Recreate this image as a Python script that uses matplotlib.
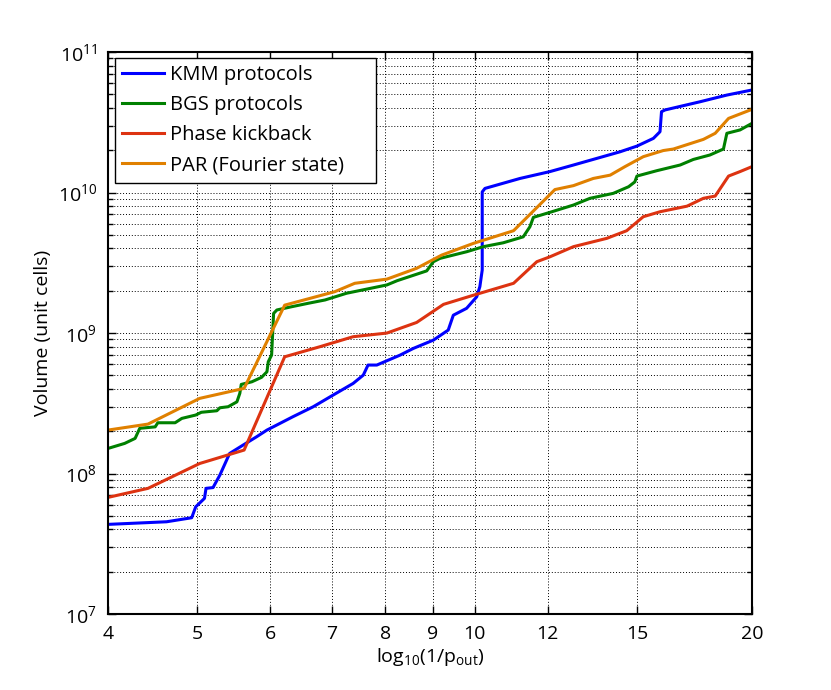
import matplotlib
matplotlib.use("Agg")
import matplotlib.pyplot as plt
from matplotlib.ticker import FixedLocator, NullLocator, FixedFormatter, LogLocator

plt.rcParams['font.family'] = ['Open Sans', 'DejaVu Sans']
plt.rcParams['mathtext.fontset'] = 'custom'
plt.rcParams['mathtext.rm'] = 'Open Sans'
plt.rcParams['mathtext.it'] = 'Open Sans'

kmm_x = [4, 4.63, 4.93, 4.98, 5.09, 5.11, 5.20, 5.29, 5.42, 5.61, 5.80, 5.95, 6.15, 6.35, 6.68,
         7.02, 7.38, 7.57, 7.66, 7.83, 8.30, 8.58, 9.02, 9.36, 9.48, 9.80, 10.05, 10.13, 10.19, 10.19,
         10.26, 11.2, 12.07, 12.8, 14.38, 15.0, 15.63, 15.89, 15.95, 16.09, 17.57, 18.78, 20]
kmm_y = [4.35e7, 4.54e7, 4.85e7, 5.8e7, 6.66e7, 7.85e7, 7.95e7, 9.76e7, 1.39e8, 1.6e8, 1.83e8, 2.04e8,
         2.28e8, 2.54e8, 2.99e8, 3.62e8, 4.38e8, 5.02e8, 5.92e8, 5.92e8, 6.97e8, 7.78e8, 8.91e8, 1.05e9,
         1.34e9, 1.5e9, 1.81e9, 2.14e9, 2.81e9, 1.01e10, 1.07e10, 1.26e10, 1.41e10, 1.57e10, 1.95e10,
         2.14e10, 2.43e10, 2.71e10, 3.76e10, 3.87e10, 4.43e10, 4.94e10, 5.37e10]

bgs_x = [4, 4.17, 4.28, 4.33, 4.50, 4.53, 4.73, 4.81, 4.98, 5.05, 5.25, 5.29, 5.40, 5.52, 5.56,
         5.58, 5.73, 5.87, 5.95, 5.97, 6.02, 6.05, 6.10, 6.33, 6.60, 6.88, 7.26, 8.03, 8.24, 8.87,
         9.02, 9.17, 9.80, 10.22, 10.74, 11.29, 11.48, 11.58, 12.07, 12.8, 13.34, 14.14, 14.69, 14.92,
         15.0, 15.76, 16.71, 17.27, 18.0, 18.62, 18.78, 19.41, 20]
bgs_y = [1.51e8, 1.64e8, 1.78e8, 2.1e8, 2.15e8, 2.3e8, 2.3e8, 2.47e8, 2.61e8, 2.73e8, 2.8e8, 2.94e8,
         2.99e8, 3.24e8, 3.72e8, 4.31e8, 4.5e8, 4.84e8, 5.3e8, 6.25e8, 6.97e8, 1.38e9, 1.46e9, 1.54e9,
         1.63e9, 1.72e9, 1.92e9, 2.2e9, 2.36e9, 2.77e9, 3.22e9, 3.4e9, 3.79e9, 4.12e9, 4.39e9, 4.84e9,
         5.71e9, 6.66e9, 7.23e9, 8.15e9, 9.1e9, 9.87e9, 1.1e10, 1.19e10, 1.31e10, 1.43e10, 1.57e10,
         1.72e10, 1.85e10, 2.04e10, 2.64e10, 2.79e10, 3.11e10]

pk_x = [4, 4.42, 5.03, 5.62, 6.22, 6.79, 7.38, 8.03, 8.65, 9.25, 9.97, 11.02, 11.68, 12.07, 12.8,
        13.91, 14.62, 15.24, 15.89, 17.0, 17.71, 18.24, 18.86, 19.41, 20]
pk_y = [6.77e7, 7.85e7, 1.18e8, 1.47e8, 6.78e8, 7.99e8, 9.42e8, 1.0e9, 1.19e9, 1.6e9, 1.86e9, 2.26e9,
        3.22e9, 3.49e9, 4.12e9, 4.72e9, 5.35e9, 6.73e9, 7.3e9, 8.0e9, 9.1e9, 9.44e9, 1.31e10, 1.41e10,
        1.53e10]

par_x = [4, 4.42, 5.03, 5.62, 6.22, 7.05, 7.41, 8.03, 8.65, 9.21, 9.97, 11.02, 12.22, 12.8, 13.45,
         14.03, 14.56, 15.24, 16.02, 16.43, 17.71, 18.24, 18.86, 20]
par_y = [2.04e8, 2.25e8, 3.43e8, 4.04e8, 1.58e9, 1.97e9, 2.26e9, 2.42e9, 2.89e9, 3.59e9, 4.35e9, 5.35e9,
         1.05e10, 1.12e10, 1.26e10, 1.33e10, 1.53e10, 1.8e10, 1.99e10, 2.04e10, 2.39e10, 2.64e10,
         3.37e10, 3.91e10]

labels = ["KMM protocols", "BGS protocols", "Phase kickback", "PAR (Fourier state)"]
colors = ["#0000ff", "#008000", "#dd3311", "#e08000"]

x_ticks = [4, 5, 6, 7, 8, 9, 10, 12, 15, 20]
x_tick_labels = ["4", "5", "6", "7", "8", "9", "10", "12", "15", "20"]

fig = plt.figure(figsize=(8.31, 6.90), dpi=100)
ax = fig.add_axes([0.130, 0.110, 0.775, 0.8146])

series = [(kmm_x, kmm_y), (bgs_x, bgs_y), (pk_x, pk_y), (par_x, par_y)]
for (xs, ys), lab, c in zip(series, labels, colors):
    ax.plot(xs, ys, color=c, lw=2.2, label=lab)

ax.set_xscale('log')
ax.set_yscale('log')
ax.set_xlim(4, 20)
ax.set_ylim(1e7, 1e11)

ax.xaxis.set_major_locator(FixedLocator(x_ticks))
ax.xaxis.set_major_formatter(FixedFormatter(x_tick_labels))
ax.xaxis.set_minor_locator(NullLocator())
ax.yaxis.set_major_locator(LogLocator(base=10, numticks=10))
ax.yaxis.set_minor_locator(LogLocator(base=10, subs=range(2, 10), numticks=20))

ax.tick_params(which='both', direction='in', top=True, right=True, labelsize=14, width=1.0)
ax.tick_params(which='major', length=6, pad=8)
ax.tick_params(which='minor', length=3.5)

ax.grid(True, which='major', axis='both', linestyle=(0, (1, 2)), color='black', lw=0.7)
ax.grid(True, which='minor', axis='y', linestyle=(0, (1, 2)), color='black', lw=0.7)

for sp in ax.spines.values():
    sp.set_linewidth(1.5)

ax.set_xlabel(r"log$_{10}$(1/p$_{\mathrm{out}}$)", fontsize=14, labelpad=2)
ax.set_ylabel("Volume (unit cells)", fontsize=14, labelpad=4)

leg = ax.legend(loc='upper left', bbox_to_anchor=(0.0104, 0.766, 0.406, 0.223), mode='expand',
                fontsize=14.5, fancybox=False, framealpha=1,
                edgecolor='black', borderaxespad=0.0, handlelength=2.1, handletextpad=0.3,
                labelspacing=0.5, borderpad=0.35)
leg.get_frame().set_linewidth(1.0)

fig.savefig("out.png", dpi=100)
